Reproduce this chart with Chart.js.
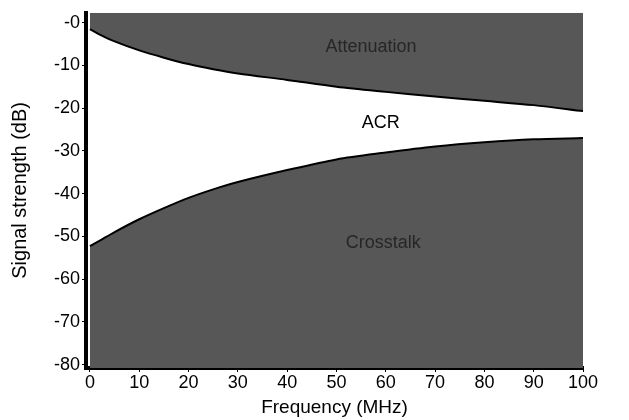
<!DOCTYPE html>
<html>
<head>
<meta charset="utf-8">
<script src="https://cdn.jsdelivr.net/npm/chart.js@4.4.0/dist/chart.umd.min.js"></script>
<style>
html,body{margin:0;padding:0;background:#fff;}
#wrap{width:629px;height:420px;position:relative;}
</style>
</head>
<body>
<div id="wrap"><canvas id="c" width="629" height="420"></canvas></div>
<script>
const frequency = [0, 2, 5, 10, 15, 20, 25, 30, 40, 50, 60, 70, 80, 90, 100];
const attenuation = [-1.5, -2.8, -4.4, -6.5, -8.2, -9.7, -10.9, -11.9, -13.4, -15.0, -16.2, -17.3, -18.3, -19.3, -20.7];
const crosstalk = [-52.3, -51.0, -49.0, -46.0, -43.4, -41.0, -39.0, -37.3, -34.5, -32.0, -30.4, -29.0, -28.0, -27.3, -27.0];
const xTicks = [0, 10, 20, 30, 40, 50, 60, 70, 80, 90, 100];
const yTicks = [0, -10, -20, -30, -40, -50, -60, -70, -80];
const yTickLabels = ['-0', '-10', '-20', '-30', '-40', '-50', '-60', '-70', '-80'];
const regionLabels = [
  {text: 'Attenuation', x: 57, y: -5.8, color: '#262626'},
  {text: 'ACR', x: 59, y: -23.6, color: '#000000'},
  {text: 'Crosstalk', x: 59.5, y: -51.6, color: '#262626'}
];

const FONT = 'Liberation Sans, Arial, sans-serif';
const FILL = '#575757';

const labelPlugin = {
  id: 'regionLabels',
  afterDatasetsDraw(chart) {
    const {ctx, scales} = chart;
    ctx.save();
    ctx.font = '18px ' + FONT;
    ctx.textAlign = 'center';
    ctx.textBaseline = 'middle';
    regionLabels.forEach(l => {
      ctx.fillStyle = l.color;
      ctx.fillText(l.text, scales.x.getPixelForValue(l.x), scales.y.getPixelForValue(l.y));
    });
    ctx.restore();
  }
};

new Chart(document.getElementById('c'), {
  type: 'line',
  data: {
    datasets: [
      {
        label: 'Attenuation',
        data: frequency.map((f, i) => ({x: f, y: attenuation[i]})),
        borderColor: '#000',
        borderWidth: 2,
        backgroundColor: FILL,
        fill: 'end',
        pointRadius: 0,
        tension: 0.3
      },
      {
        label: 'Crosstalk',
        data: frequency.map((f, i) => ({x: f, y: crosstalk[i]})),
        borderColor: '#000',
        borderWidth: 2,
        backgroundColor: FILL,
        fill: 'start',
        pointRadius: 0,
        tension: 0.3
      }
    ]
  },
  options: {
    responsive: false,
    animation: false,
    layout: {padding: {top: 9, right: 46, left: 0, bottom: 0}},
    plugins: {legend: {display: false}, tooltip: {enabled: false}},
    scales: {
      x: {
        type: 'linear',
        min: -0.8,
        max: 100,
        afterBuildTicks: s => { s.ticks = xTicks.map(v => ({value: v})); },
        afterFit: s => { s.height = 52; },
        ticks: {color: '#000', font: {family: FONT, size: 18}, padding: 0, maxRotation: 0, autoSkip: false},
        grid: {display: true, drawOnChartArea: false, color: '#000', tickLength: 4, tickWidth: 1},
        border: {display: true, color: '#000', width: 4},
        title: {display: true, text: 'Frequency (MHz)', color: '#000', font: {family: FONT, size: 19}, padding: {top: 0, bottom: 1}}
      },
      y: {
        type: 'linear',
        min: -80.8,
        max: 2.3,
        afterBuildTicks: s => { s.ticks = yTicks.map(v => ({value: v})); },
        afterFit: s => { s.width = 86; },
        ticks: {
          color: '#000', font: {family: FONT, size: 18}, padding: 2, autoSkip: false,
          callback: (v) => { const i = yTicks.indexOf(v); return i >= 0 ? yTickLabels[i] : ''; }
        },
        grid: {display: true, drawOnChartArea: false, color: '#000', tickLength: 4, tickWidth: 1},
        border: {display: true, color: '#000', width: 4},
        title: {display: true, text: 'Signal strength (dB)', color: '#000', font: {family: FONT, size: 20}, padding: {top: 8, bottom: 2}}
      }
    }
  },
  plugins: [labelPlugin]
});
</script>
</body>
</html>
